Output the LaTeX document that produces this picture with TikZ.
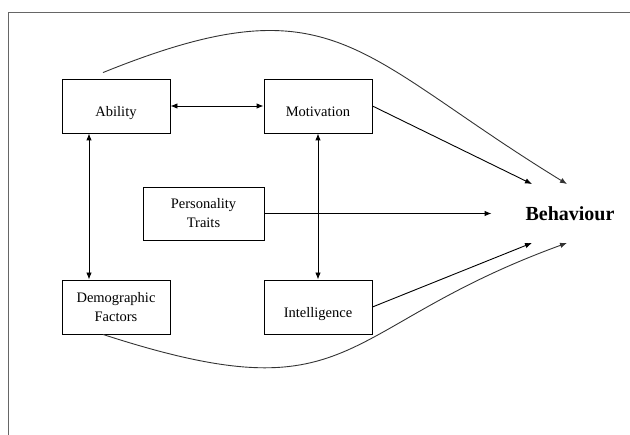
\documentclass[tikz,border=0pt]{standalone}
\usepackage{fontspec}
\setmainfont{Liberation Serif}
\usetikzlibrary{arrows.meta}

\begin{document}
\begin{tikzpicture}
    [x=1pt,y=1pt,>={Latex[length=7pt,width=5.5pt]},line width=0.9pt,
     box/.style={draw,minimum width=108pt,minimum height=54pt,inner sep=0pt,align=center,
                 font=\fontsize{14.5}{19}\selectfont},
     single/.style={text height=22pt,text depth=0pt}]

    \useasboundingbox (0,0) rectangle (630,-435);
    \draw[black!60] (8,-445) rectangle (640,-12);

    \foreach \name/\x/\y/\text in {abil/116/-106/Ability, motiv/318/-106/Motivation, intel/318/-307/Intelligence}
      \node[box,single] (\name) at (\x,\y) {\text};

    \node[box] (demo) at (116,-307) {Demographic\\Factors};
    \node[box,minimum width=121pt,minimum height=53pt] (pers) at (203.5,-213.5) {Personality\\Traits};
    \node[minimum width=156pt,minimum height=58pt,inner sep=0pt,
          font=\fontsize{20}{24}\selectfont\bfseries] (behav) at (570,-213.5) {Behaviour};

    \draw[<->] (abil) -- (motiv);
    \draw[<->] (motiv) -- (intel);
    \draw[<->] ([xshift=-27pt]abil.south) -- ([xshift=-27pt]demo.north);

    \draw[->] (pers) -- (behav);
    \draw[->] (motiv.east) -- ([xshift=-38pt]behav.north);
    \draw[->] (intel.east) -- ([xshift=-38pt]behav.south);

    \draw[->,black!80] ([xshift=-13pt,yshift=6pt]abil.north) .. controls +(22:250) and +(148.5:250) .. ([xshift=-3pt]behav.north);
    \draw[->,black!80] ([xshift=-13pt]demo.south) .. controls +(-18:270) and +(200:250) .. ([xshift=-3pt]behav.south);
  \end{tikzpicture}
\end{document}
